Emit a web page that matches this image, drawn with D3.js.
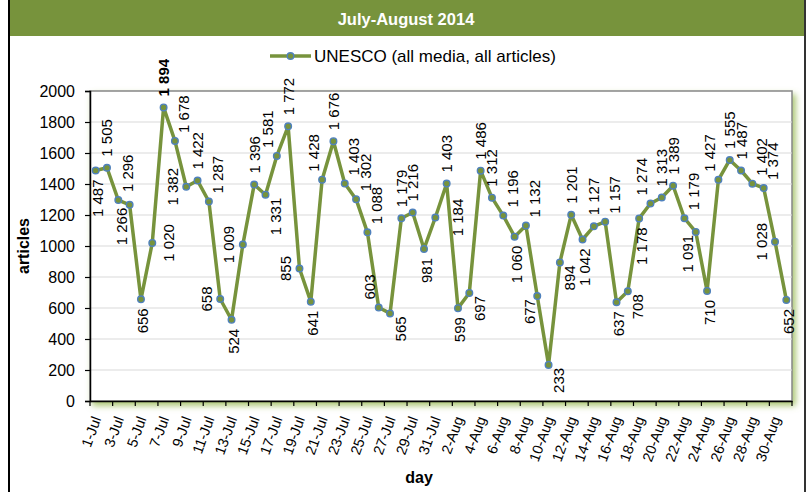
<!DOCTYPE html>
<html><head><meta charset="utf-8">
<script src="https://cdn.jsdelivr.net/npm/d3@7"></script>
<style>
html,body{margin:0;padding:0;background:#fff;}
svg{display:block;font-family:Arial,"Liberation Sans",sans-serif;}
</style></head>
<body>
<svg id="chart" width="811" height="492"></svg>
<script>
const title = "July-August 2014";
const seriesName = "UNESCO (all media, all articles)";
const days = ["1-Jul","2-Jul","3-Jul","4-Jul","5-Jul","6-Jul","7-Jul","8-Jul","9-Jul","10-Jul",
"11-Jul","12-Jul","13-Jul","14-Jul","15-Jul","16-Jul","17-Jul","18-Jul","19-Jul","20-Jul",
"21-Jul","22-Jul","23-Jul","24-Jul","25-Jul","26-Jul","27-Jul","28-Jul","29-Jul","30-Jul","31-Jul",
"1-Aug","2-Aug","3-Aug","4-Aug","5-Aug","6-Aug","7-Aug","8-Aug","9-Aug","10-Aug",
"11-Aug","12-Aug","13-Aug","14-Aug","15-Aug","16-Aug","17-Aug","18-Aug","19-Aug","20-Aug",
"21-Aug","22-Aug","23-Aug","24-Aug","25-Aug","26-Aug","27-Aug","28-Aug","29-Aug","30-Aug","31-Aug"];
const articles = [1487,1505,1296,1266,656,1020,1894,1678,1382,1422,1287,658,524,1009,1396,1331,1581,1772,855,641,
1428,1676,1403,1302,1088,603,565,1179,1216,981,1184,1403,599,697,1486,1312,1196,1060,1132,677,
233,894,1201,1042,1127,1157,637,708,1178,1274,1313,1389,1179,1091,710,1427,1555,1487,1402,1374,1028,652];
const yTicks = [0,200,400,600,800,1000,1200,1400,1600,1800,2000];
const xTickLabels = days.filter((d,i)=>i%2===0);
// label placement codes (A=above, B=below, L=left, R=right; suffix L/R = nudged)
const labelPlace = ["B","A","AR","BL","B","R","A","AR","L","A","AR","L","B","L","A","BR","AL","A","L","B",
"AL","A","AR","AR","AR","AL","BR","A","A","B","RR","A","B","BR","A","A","AR","B","AR","BL",
"BR","BR","A","B","A","AR","B","BR","B","AL","A","A","AR","BL","B","AL","A","A","AR","AR","L","B"];

const green = "#77933C";
const svg = d3.select("#chart");
const defs = svg.append("defs");
const f = defs.append("filter").attr("id","sh").attr("x","-5%").attr("y","-5%").attr("width","115%").attr("height","120%");
f.append("feDropShadow").attr("dx",3).attr("dy",4).attr("stdDeviation",3).attr("flood-color","#9BBB59").attr("flood-opacity",0.85);

// frame
svg.append("rect").attr("x",10).attr("y",0).attr("width",794).attr("height",36).attr("fill","#77933C");
svg.append("line").attr("x1",9).attr("x2",9).attr("y1",0).attr("y2",492).attr("stroke","#000").attr("stroke-width",2);
svg.append("line").attr("x1",805).attr("x2",805).attr("y1",0).attr("y2",492).attr("stroke","#333").attr("stroke-width",2);
svg.append("text").attr("x",406).attr("y",19).attr("text-anchor","middle").attr("dominant-baseline","central")
  .attr("fill","#fff").attr("font-weight","bold").attr("font-size",16.5).text(title);

const L = 90, R = 792, T = 91, B = 401;
const x = d3.scaleBand().domain(days).range([L,R]).padding(0);
const bw = x.bandwidth();
const cx = d => x(d) + bw/2;
const y = d3.scaleLinear().domain([0,2000]).range([B,T]);

// plot area
svg.append("rect").attr("x",L).attr("y",T).attr("width",R-L).attr("height",B-T)
  .attr("fill","#fff").attr("stroke","#868686").attr("stroke-width",1.5).attr("filter","url(#sh)");
svg.append("g").selectAll("line").data(yTicks.filter(v=>v>0 && v<2000)).join("line")
  .attr("x1",L).attr("x2",R).attr("y1",d=>y(d)).attr("y2",d=>y(d))
  .attr("stroke","#D9D9D9").attr("stroke-width",1);

// y axis
const ya = svg.append("g").attr("transform",`translate(${L},0)`)
  .call(d3.axisLeft(y).tickValues(yTicks).tickSize(5).tickPadding(10).tickFormat(d3.format("d")));
ya.select(".domain").attr("stroke","#000").attr("stroke-width",1.5);
ya.selectAll(".tick line").attr("stroke","#000").attr("stroke-width",1.2);
ya.selectAll("text").attr("font-size",16).attr("fill","#000").attr("font-family","Arial,'Liberation Sans',sans-serif");

// x axis
const xa = svg.append("g").attr("transform",`translate(0,${B})`)
  .call(d3.axisBottom(x).tickValues(xTickLabels).tickSize(0).tickSizeOuter(0).tickPadding(0));
xa.select(".domain").attr("stroke","#000").attr("stroke-width",1.5);
xa.selectAll(".tick text").attr("font-size",14.5).attr("fill","#000")
  .attr("font-family","Arial,'Liberation Sans',sans-serif")
  .attr("text-anchor","end").attr("dominant-baseline","central").attr("dy",null)
  .attr("transform","translate(1,16) rotate(-70)").attr("y",0);
const bounds = d3.range(0, days.length+1, 2).map(k => L + k*bw);
svg.append("g").selectAll("line").data(bounds).join("line")
  .attr("x1",d=>d).attr("x2",d=>d).attr("y1",B).attr("y2",B+5)
  .attr("stroke","#000").attr("stroke-width",1.2);

// axis titles
svg.append("text").attr("transform","translate(23,246) rotate(-90)").attr("text-anchor","middle")
  .attr("dominant-baseline","central").attr("font-weight","bold").attr("font-size",16).text("articles");
svg.append("text").attr("x",419).attr("y",477).attr("text-anchor","middle")
  .attr("dominant-baseline","central").attr("font-weight","bold").attr("font-size",16).text("day");

// line
const data = days.map((d,i)=>({d, v:articles[i], p:labelPlace[i]}));
svg.append("path").datum(data)
  .attr("d", d3.line().x(o=>cx(o.d)).y(o=>y(o.v)))
  .attr("fill","none").attr("stroke",green).attr("stroke-width",3.5).attr("stroke-linejoin","round");
svg.append("g").selectAll("circle").data(data).join("circle")
  .attr("cx",o=>cx(o.d)).attr("cy",o=>y(o.v)).attr("r",3.3)
  .attr("fill",green).attr("stroke","#4F81BD").attr("stroke-width",1.4);

// data labels
const loc = d3.formatLocale({decimal:",",thousands:" ",grouping:[3],currency:["",""]});
const fmt = loc.format(",d");
const maxV = d3.max(articles);
const off = {
  A:{dx:0,gap:11,side:"up"}, AR:{dx:9,gap:8,side:"up"}, AL:{dx:-9,gap:8,side:"up"},
  B:{dx:2,gap:9,side:"down"}, BR:{dx:10,gap:3,side:"down"}, BL:{dx:-8,gap:3,side:"down"},
  L:{dx:-14,gap:0,side:"mid"}, R:{dx:16,gap:0,side:"mid"}, RR:{dx:22,gap:0,side:"mid"}
};
svg.append("g").selectAll("text").data(data).join("text")
  .attr("transform", o => {
    const s = off[o.p];
    let px = cx(o.d) + s.dx, py = y(o.v);
    if (s.side==="up") py -= s.gap;
    if (s.side==="down") py += s.gap;
    return `translate(${px},${py}) rotate(-90)`;
  })
  .attr("text-anchor", o => off[o.p].side==="up" ? "start" : off[o.p].side==="down" ? "end" : "middle")
  .attr("dominant-baseline","central")
  .attr("font-size",15).attr("fill","#000")
  .attr("font-weight", o => o.v===maxV ? "bold" : "normal")
  .text(o => fmt(o.v));

// legend
const lg = svg.append("g");
lg.append("line").attr("x1",270).attr("x2",311).attr("y1",56).attr("y2",56).attr("stroke",green).attr("stroke-width",3.5);
lg.append("circle").attr("cx",290.5).attr("cy",56).attr("r",3.3).attr("fill",green).attr("stroke","#4F81BD").attr("stroke-width",1.4);
lg.append("text").attr("x",314).attr("y",56).attr("dominant-baseline","central").attr("font-size",17).text(seriesName);
</script>
</body></html>
